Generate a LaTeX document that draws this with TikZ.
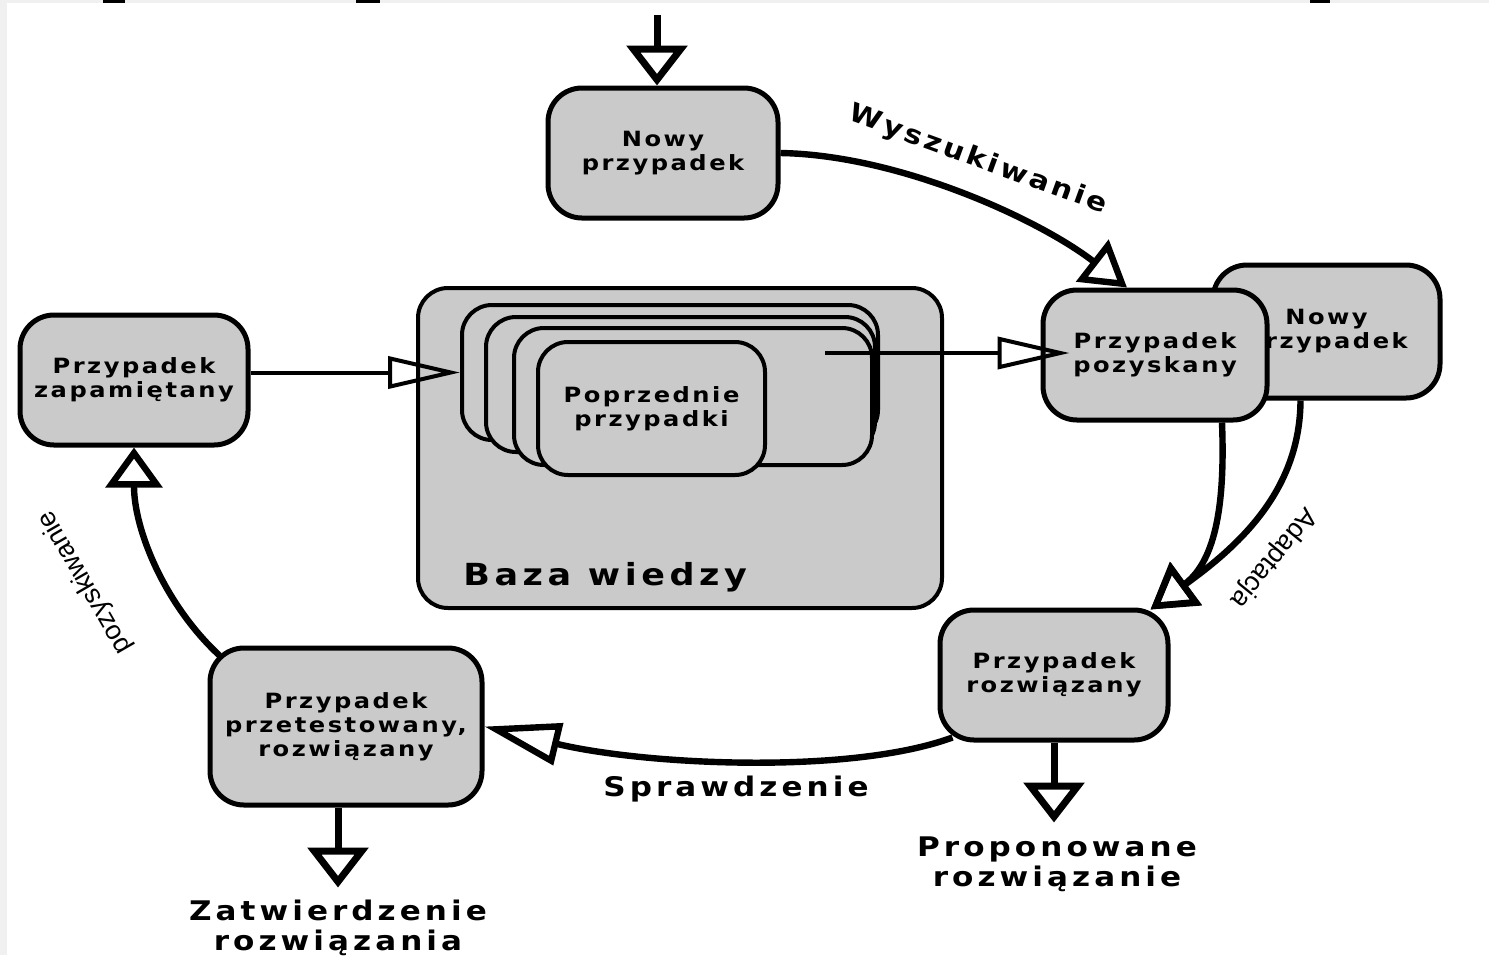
\documentclass[tikz,border=0pt]{standalone}
\usepackage{fontspec}
\setmainfont{Liberation Sans}
\newfontfamily\boxfont[LetterSpace=12,FakeStretch=1.15]{DejaVu Sans}
\newfontfamily\widefont[LetterSpace=15,FakeStretch=1.15]{DejaVu Sans}
\usetikzlibrary{arrows.meta,calc}
\definecolor{boxgray}{RGB}{202,202,202}
\definecolor{scangray}{RGB}{240,240,240}
\tikzset{
  casebox/.style={draw, line width=2.5pt, fill=boxgray, rounded corners=17pt, align=center, inner sep=0pt,
    font=\boxfont\bfseries\fontsize{10.5}{12}\selectfont},
  card/.style={draw, line width=2pt, fill=boxgray, rounded corners=15pt},
  bigtip/.style={line width=3.5pt, -{Triangle[open,length=20pt,width=30pt]}},
  flow/.style={line width=3.2pt, -{Triangle[open,length=22pt,width=26pt]}},
  slim/.style={line width=2pt, -{Triangle[open,length=36pt,width=16pt]}},
  steplabel/.style={font=\widefont\bfseries\fontsize{13.5}{15}\selectfont, align=center, inner sep=0pt},
  arclabel/.style={font=\fontsize{13.5}{15}\selectfont, inner sep=0pt}
}
\begin{document}
\begin{tikzpicture}[x=0.5pt,y=-0.5pt]
\useasboundingbox (0,0) rectangle (1489,955);
% scan edges
\fill[scangray] (0,0) rectangle (7,955);
\fill[scangray] (0,0) rectangle (1489,3);
\fill (103,0) rectangle (125,3);
\fill (356,0) rectangle (380,3);
\fill (1310,0) rectangle (1330,3);

% knowledge base
\node[casebox, line width=2pt, rounded corners=15pt, minimum width=262pt, minimum height=160pt] (baza) at (680,448) {};
\node[anchor=base west, inner sep=0pt, font=\widefont\bfseries\fontsize{15.2}{18}\selectfont] (bazalabel) at (463,585) {Baza wiedzy};
\node[card, minimum width=208pt, minimum height=67.5pt] (c1) at (670,372.5) {};
\node[card, minimum width=194.5pt, minimum height=67.5pt] (c2) at (680.5,384.5) {};
\node[card, minimum width=179pt, minimum height=68.5pt] (c3) at (693,396.5) {};
\node[casebox, line width=2pt, rounded corners=15pt, minimum width=113.5pt, minimum height=66.5pt] (prev) at (651.5,408.5) {Poprzednie\\przypadki};

% cases
\node[casebox, minimum width=115pt, minimum height=65pt] (nowy) at (663,153) {Nowy\\przypadek};
\node[casebox, minimum width=114pt, minimum height=65pt] (zapam) at (134,380) {Przypadek\\zapamiętany};
\node[casebox, minimum width=113.5pt, minimum height=66.5pt] (nowy2) at (1326.5,331.5) {Nowy\\przypadek};
\node[casebox, minimum width=112pt, minimum height=65pt] (pozysk) at (1155,355) {Przypadek\\pozyskany};
\node[casebox, minimum width=114pt, minimum height=65pt] (rozw) at (1054,675) {Przypadek\\rozwiązany};
\node[casebox, minimum width=136pt, minimum height=78.5pt] (przetest) at (346,726.5) {Przypadek\\przetestowany,\\rozwiązany};

% outputs
\coordinate (proptip) at ($(rozw.south)+(0,80)$);
\node[steplabel, anchor=north] (prop) at ($(proptip)+(3,14)$) {Proponowane\\rozwiązanie};
\coordinate (zattip) at ($(przetest.south)+(-8,80)$);
\node[steplabel, anchor=north] (zatw) at ($(zattip)+(0,12)$) {Zatwierdzenie\\rozwiązania};

% arrows
\coordinate (start) at (657,15);
\draw[bigtip] (start) -- (start |- nowy.north);
\coordinate (wtip) at ($(pozysk.north)+(-28,0)$);
\draw[flow] (nowy.east) .. controls (900,155) and (1040,220) .. (wtip);
\node[steplabel, font=\boxfont\bfseries\fontsize{13}{15}\selectfont, rotate=-20] (wysz) at (978,160) {Wyszukiwanie};

\coordinate (stackout) at (825,353);
\coordinate (ptip) at ($(pozysk.west)+(29,-2)$);
\draw[slim] (stackout) -- (ptip);
\draw[slim] (c1.west -| zapam.east) -- (c1.west);

\coordinate (atip) at ($(rozw.north east)+(-20,2)$);
\coordinate (pout) at ($(pozysk.south)+(67,0)$);
\coordinate (nout) at ($(nowy2.south)+(-26,0)$);
\draw[flow] (pout) .. controls (1225,500) and (1217,560) .. (atip);
\draw[flow] (nout) .. controls (1300,490) and (1240,545) .. (atip);
\node[arclabel, rotate=-129] (adapt) at (1273,558) {Adaptacja};

\coordinate (rout) at ($(rozw.south west)+(15,-5)$);
\draw[flow, -{Triangle[open,length=38pt,width=21pt]}] (rout) .. controls (850,775) and (645,765) .. (przetest.east);
\node[steplabel] (spraw) at (736,789) {Sprawdzenie};

\coordinate (tout) at ($(przetest.north west)+(12,10)$);
\draw[flow, -{Triangle[open,length=20pt,width=28pt]}] (tout) .. controls (165,605) and (134,530) .. (zapam.south);
\node[arclabel, rotate=120] (pozl) at (85,582) {pozyskiwanie};

\draw[bigtip] (rozw.south) -- (proptip);
\draw[bigtip] (przetest.south -| zattip) -- (zattip);
\end{tikzpicture}
\end{document}
